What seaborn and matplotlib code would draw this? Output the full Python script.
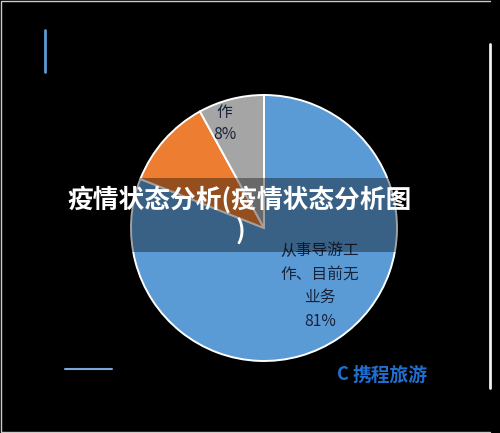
import matplotlib
matplotlib.use('Agg')
import matplotlib.pyplot as plt
from matplotlib.lines import Line2D
from matplotlib.patches import Rectangle
import seaborn as sns

# pie data
categories = ['从事导游工作、目前无业务', '其他', '从事其他工作']
shares = [81, 11, 8]
slice_labels = ['从事导游工\n作、目前无\n业务\n81%', '', '作\n8%']
title = '疫情状态分析(疫情状态分析图\n)'
watermark = '携程旅游'

sns.set_theme(style='dark')
plt.rcParams['font.family'] = ['Noto Sans CJK SC', 'DejaVu Sans']
colors = sns.color_palette(['#5B9BD5', '#ED7D31', '#A5A5A5'])

fig = plt.figure(figsize=(5, 4.33), dpi=100, facecolor='black')

# pie centred at about (264, 228) px, radius about 133 px
W, H = 500, 433
cx, cy, r = 264 / W, 1 - 228 / H, 133
ax = fig.add_axes([cx - r / W, cy - r / H, 2 * r / W, 2 * r / H])
ax.set_facecolor('black')
wedges, _ = ax.pie(shares, colors=colors, startangle=90, counterclock=False,
                   wedgeprops=dict(edgecolor='white', linewidth=1.4))
ax.set_xlim(-1, 1)
ax.set_ylim(-1, 1)
ax.set_aspect('auto')
ax.axis('off')

# slice labels
ax.text(0.42, -0.435, slice_labels[0], ha='center', va='center', fontsize=11.3,
        color='#18233a', linespacing=1.5, fontweight='medium')
ax.text(-0.297, 0.786, slice_labels[2], ha='center', va='center', fontsize=11.3,
        color='#18233a', linespacing=1.45, fontweight='medium')

# decorative lines from the screenshot
fig.add_artist(Line2D([45 / W, 45 / W], [1 - 30 / H, 1 - 72 / H], color='#5B9BD5', lw=2))
fig.add_artist(Line2D([65 / W, 112 / W], [1 - 369 / H, 1 - 369 / H], color='#7BA7D6', lw=1.5))
fig.add_artist(Line2D([490 / W, 490 / W], [1 - 44 / H, 1 - 388 / H], color='#F0F0F0', lw=2))
# thin frame on top, left and bottom
fig.add_artist(Line2D([490 / W, 0.001, 0.001, 490 / W], [0.998, 0.998, 0.002, 0.002],
                      color='#CCCCCC', lw=1))

# watermark
fig.text(390 / W, 1 - 375 / H, watermark, ha='center', va='center', fontsize=13.5,
         fontweight='bold', color='#1E6FD0')
fig.text(343 / W, 1 - 375 / H, 'C', ha='center', va='center', fontsize=13,
         fontweight='bold', color='#1E6FD0')

# translucent title band
fig.add_artist(Rectangle((0, 1 - 252 / H), 1, 74 / H, facecolor='black', alpha=0.37,
                         edgecolor='none', transform=fig.transFigure))
fig.text(240 / W, 1 - 216 / H, title, ha='center', va='center', fontsize=18.5,
         fontweight='heavy', color='white', linespacing=1.25)

fig.savefig('out.png', dpi=100, facecolor='black')
